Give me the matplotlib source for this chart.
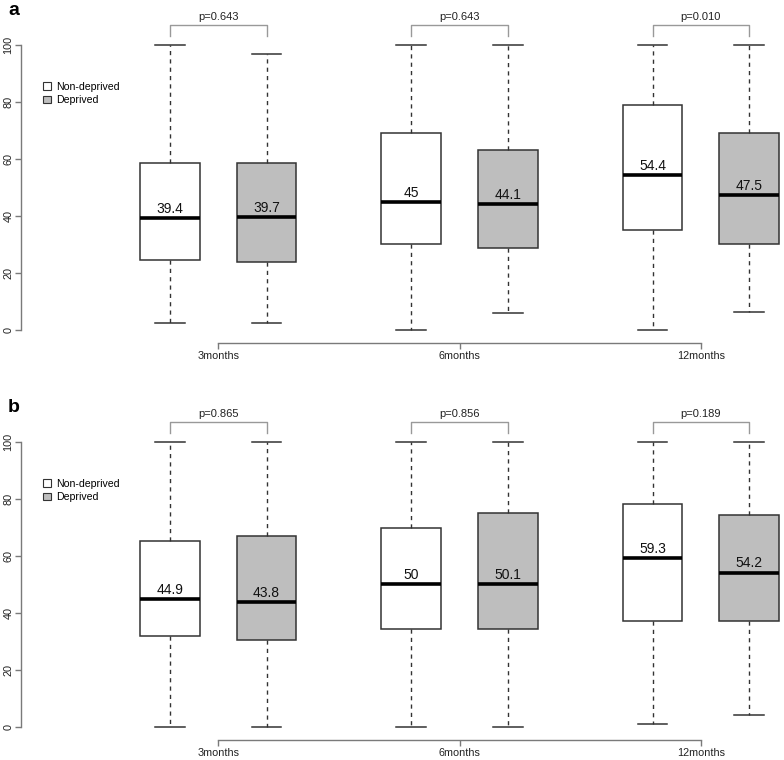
import numpy as np
import matplotlib.pyplot as plt
from matplotlib.patches import Patch

plt.rcParams['font.family'] = ['Liberation Sans', 'DejaVu Sans']

months = ['3months', '6months', '12months']
groups = ['Non-deprived', 'Deprived']

# panel a
a_nondep_lo = [2.6, 0.0, 0.0]
a_nondep_q1 = [24.6, 30.1, 35.1]
a_nondep_med = [39.4, 45.0, 54.4]
a_nondep_q3 = [58.6, 69.1, 78.8]
a_nondep_hi = [100, 100, 100]
a_dep_lo = [2.6, 5.8, 6.4]
a_dep_q1 = [23.8, 28.9, 30.1]
a_dep_med = [39.7, 44.1, 47.5]
a_dep_q3 = [58.6, 63.0, 69.0]
a_dep_hi = [96.8, 100, 100]
a_pvals = ['0.643', '0.643', '0.010']

# panel b
b_nondep_lo = [0.0, 0.0, 1.2]
b_nondep_q1 = [31.9, 34.3, 37.1]
b_nondep_med = [44.9, 50.0, 59.3]
b_nondep_q3 = [65.4, 69.8, 78.1]
b_nondep_hi = [100, 100, 100]
b_dep_lo = [0.0, 0.0, 4.1]
b_dep_q1 = [30.5, 34.5, 37.1]
b_dep_med = [43.8, 50.1, 54.2]
b_dep_q3 = [67.1, 75.0, 74.5]
b_dep_hi = [100, 100, 100]
b_pvals = ['0.865', '0.856', '0.189']

W, H = 784, 760
fig = plt.figure(figsize=(W / 100, H / 100), dpi=100)

edge = '#333333'
axcol = '#7a7a7a'
fills = ['white', '#bebebe']


def panel(top_px, bot_px, letter, nd, dp, pvals):
    ax = fig.add_axes([21 / W, 1 - bot_px / H, 1 - 21 / W, (bot_px - top_px) / H])
    stats, pos = [], []
    for i in range(len(months)):
        base = 1 + 2.5 * i
        for j, s in enumerate((nd, dp)):
            stats.append(dict(whislo=s[0][i], q1=s[1][i], med=s[2][i],
                              q3=s[3][i], whishi=s[4][i]))
            pos.append(base + j)
    bp = ax.bxp(stats, positions=pos, widths=0.62, capwidths=0.31,
                patch_artist=True, showfliers=False,
                boxprops=dict(edgecolor=edge, linewidth=1.1),
                whiskerprops=dict(color=edge, linewidth=1.0, linestyle=(0, (3, 3))),
                capprops=dict(color=edge, linewidth=1.1),
                medianprops=dict(color='black', linewidth=2.6, solid_capstyle='butt'))
    for k, b in enumerate(bp['boxes']):
        b.set_facecolor(fills[k % 2])
    for p, s in zip(pos, stats):
        ax.annotate(f"{s['med']:g}", (p, s['med']), xytext=(0, 1.5),
                    textcoords='offset points', ha='center', va='bottom',
                    fontsize=10, color='#111111')

    centers = [1.5 + 2.5 * i for i in range(len(months))]
    for i, c in enumerate(centers):
        x0, x1 = c - 0.5, c + 0.5
        ax.plot([x0, x0, x1, x1], [103.2, 107, 107, 103.2], color='#999999',
                lw=1.0, clip_on=False)
        ax.text(c, 107.9, 'p=' + pvals[i], ha='center', va='bottom',
                fontsize=8, color='#222222', clip_on=False)

    ax.set_xlim(1 - 149 / 96.5, 1 + 614 / 96.5)
    ax.set_ylim(-4.5, 104)
    for sp in ('top', 'right'):
        ax.spines[sp].set_visible(False)
    ax.spines['left'].set_bounds(0, 100)
    ax.spines['bottom'].set_bounds(centers[0], centers[-1])
    for sp in ('left', 'bottom'):
        ax.spines[sp].set_color(axcol)
        ax.spines[sp].set_linewidth(1.0)
    ax.set_yticks(np.arange(0, 101, 20))
    ax.set_xticks(centers)
    ax.set_xticklabels(months)
    ax.tick_params(axis='both', colors=axcol, length=4, width=1.0, labelsize=7.8,
                   labelcolor='#222222')
    ax.tick_params(axis='x', pad=2.2)
    ax.tick_params(axis='y', pad=1.5)
    plt.setp(ax.get_yticklabels(), rotation=90, va='center')
    ax.patch.set_alpha(0)

    handles = [Patch(facecolor=f, edgecolor='#333333', linewidth=0.8) for f in fills]
    ax.legend(handles, groups, loc='upper left',
              bbox_to_anchor=(43 / W, 1 - (top_px + 48) / H),
              bbox_transform=fig.transFigure, frameon=False, fontsize=7.6,
              borderpad=0, borderaxespad=0, handlelength=0.75, handleheight=0.75,
              handletextpad=0.5, labelspacing=0.35)

    fig.text(8 / W, 1 - (top_px - 19) / H, letter, fontsize=14, fontweight='bold',
             ha='left', va='baseline')
    return ax


panel(33.6, 342.8, 'a',
      (a_nondep_lo, a_nondep_q1, a_nondep_med, a_nondep_q3, a_nondep_hi),
      (a_dep_lo, a_dep_q1, a_dep_med, a_dep_q3, a_dep_hi), a_pvals)
panel(430.6, 739.8, 'b',
      (b_nondep_lo, b_nondep_q1, b_nondep_med, b_nondep_q3, b_nondep_hi),
      (b_dep_lo, b_dep_q1, b_dep_med, b_dep_q3, b_dep_hi), b_pvals)

fig.savefig('out.png', dpi=100)
